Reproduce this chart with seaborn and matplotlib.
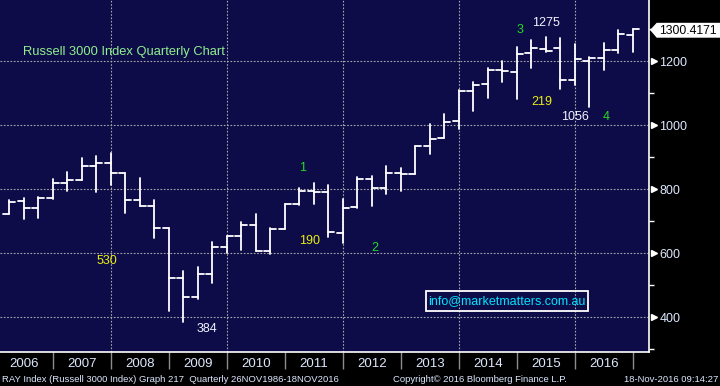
import numpy as np
import pandas as pd
import seaborn as sns
import matplotlib.pyplot as plt
from matplotlib.patches import Polygon, Rectangle

# quarterly OHLC, Q1 2006 .. Q4 2016
opens = [722, 762, 741, 772, 821, 828, 872, 881, 850, 766, 747, 678, 523, 463, 534,
         619, 653, 688, 607, 675, 753, 794, 791, 663, 746, 833, 803, 850, 847, 934,
         959, 1012, 1106, 1128, 1172, 1167, 1226, 1238, 1241, 1141, 1200, 1209, 1235, 1282]
highs = [766, 774, 775, 831, 854, 898, 904, 914, 850, 835, 766, 678, 545, 557, 634,
         654, 699, 723, 678, 753, 804, 821, 813, 770, 839, 842, 873, 867, 935, 1003,
         1035, 1110, 1135, 1178, 1201, 1245, 1267, 1276, 1272, 1253, 1212, 1256, 1298, 1300]
lows = [722, 708, 711, 769, 796, 828, 793, 813, 727, 747, 649, 421, 386, 456, 508,
        600, 610, 607, 597, 675, 750, 753, 652, 633, 742, 749, 784, 796, 848, 911,
        959, 988, 1046, 1086, 1136, 1081, 1180, 1230, 1114, 1126, 1058, 1173, 1225, 1230]
closes = [759, 741, 772, 821, 828, 872, 881, 850, 766, 747, 678, 523, 463, 534, 619,
          653, 688, 607, 675, 753, 794, 791, 666, 741, 833, 803, 850, 848, 935, 956,
          1009, 1106, 1125, 1172, 1169, 1223, 1241, 1233, 1141, 1206, 1209, 1235, 1285, 1300.4171]
years = list(range(2006, 2017))
y_major = [400, 600, 800, 1000, 1200]
y_minor = [300, 500, 700, 900, 1100, 1300]

# annotations: (text, bar index, value, colour)
labels = [("1", 20.2, 866, "#22dd22"), ("2", 25.2, 616, "#22dd22"),
          ("3", 35.2, 1298, "#22dd22"), ("4", 41.2, 1027, "#22dd22"),
          ("530", 6.7, 576, "#e8ee10"), ("190", 20.7, 638, "#e8ee10"),
          ("219", 36.7, 1074, "#e8ee10"),
          ("384", 13.66, 363, "#f2f2ff"), ("1275", 37.0, 1319, "#f2f2ff"),
          ("1056", 39.0, 1025, "#f2f2ff")]

BG = "#0e0c48"
TXT = "#dde8ff"

sns.set_style("dark", rc={"axes.facecolor": BG, "figure.facecolor": "black"})
plt.rcParams["font.family"] = ["Liberation Sans", "DejaVu Sans"]

W, H = 720, 386
fig = plt.figure(figsize=(7.2, 3.86), dpi=100)
ax = fig.add_axes([0, 1 - 352 / H, 649 / W, 352 / H])
ax.set_facecolor(BG)

# build bar segments: high-low line, open tick left, close tick right
rows = []
tick = 0.42
for k in range(len(opens)):
    rows += [(3 * k, k, lows[k]), (3 * k, k, highs[k]),
             (3 * k + 1, k - tick, opens[k]), (3 * k + 1, k, opens[k]),
             (3 * k + 2, k, closes[k]), (3 * k + 2, k + tick, closes[k])]
df = pd.DataFrame(rows, columns=["seg", "x", "y"])
sns.lineplot(data=df, x="x", y="y", units="seg", estimator=None, sort=False,
             color="white", lw=1.3, ax=ax, zorder=3)

ax.set_xlim(-0.641, 44.12)
ax.set_ylim(291.6, 1391.6)
ax.set_xlabel("")
ax.set_ylabel("")

# grid
dots = (0, (1.5, 1.5))
for v in y_major:
    ax.axhline(v, color="#a8a8a8", lw=0.8, ls=dots, zorder=1)
for k in [7, 15, 23, 31, 39]:
    ax.axvline(k, color="#a8a8a8", lw=0.8, ls=dots, zorder=1)

# spines
for s in ["left", "top"]:
    ax.spines[s].set_visible(False)
for s in ["right", "bottom"]:
    ax.spines[s].set_color("white")
    ax.spines[s].set_linewidth(1.2)

# right y axis
ax.yaxis.tick_right()
ax.set_yticks(y_major)
ax.set_yticklabels([str(v) for v in y_major])
ax.set_yticks(y_minor, minor=True)
ax.tick_params(axis="y", which="major", length=0, pad=7.5, labelsize=9, labelcolor=TXT)
ax.tick_params(axis="y", which="minor", length=3.5, width=1, color="white", direction="out")
ax.plot([1.008] * len(y_major), y_major, marker=">", ls="none", ms=5, color="white",
        transform=ax.get_yaxis_transform(), clip_on=False)

# x axis: year labels centred within each year
ax.set_xticks([1 + 4 * j for j in range(len(years))])
ax.set_xticklabels([str(y) for y in years])
ax.tick_params(axis="x", length=0, pad=4, labelsize=9.5, labelcolor=TXT)
ax.vlines([3 + 4 * j for j in range(len(years))], -17 / 352, 0, color="#8c8c8c", lw=1,
          transform=ax.get_xaxis_transform(), clip_on=False)

# texts in the plot
ax.text(23 / 649, 1 - 52 / 352, "Russell 3000 Index Quarterly Chart", color="#8ff08f",
        fontsize=9.3, va="center", ha="left", transform=ax.transAxes)
for t, k, v, c in labels:
    ax.text(k, v, t, color=c, fontsize=9, ha="center", va="center", zorder=4)

# email box
ax.add_patch(Rectangle(((425.7) / 649, 1 - 311 / 352), 162 / 649, 20.3 / 352,
                       transform=ax.transAxes, fill=False, ec="white", lw=1.3, zorder=4))
ax.text(506.5 / 649, 1 - 301 / 352, "info@marketmatters.com.au", color="#00e4ff",
        fontsize=9.0, ha="center", va="center", transform=ax.transAxes, zorder=5)

# last price flag
def fp(x, y):
    return (x / W, 1 - y / H)

fig.patches.append(Polygon([fp(651, 30), fp(657, 23.5), fp(720, 23.5), fp(720, 37), fp(657, 37)],
                           closed=True, fc="white", ec="white", transform=fig.transFigure))
fig.text(*fp(688, 30.5), "1300.4171", color="black", fontsize=8.8, ha="center", va="center")

# footer
fig.text(*fp(2, 379.5), "RAY Index (Russell 3000 Index) Graph 217  Quarterly 26NOV1986-18NOV2016",
         color=TXT, fontsize=6.8, ha="left", va="center")
fig.text(*fp(393, 379.5), "Copyright\u00a9 2016 Bloomberg Finance L.P.", color=TXT, fontsize=6.8,
         ha="left", va="center")
fig.text(*fp(718, 379.5), "18-Nov-2016 09:14:27", color=TXT, fontsize=6.8, ha="right", va="center")

fig.savefig("out.png", dpi=100, facecolor="black")
